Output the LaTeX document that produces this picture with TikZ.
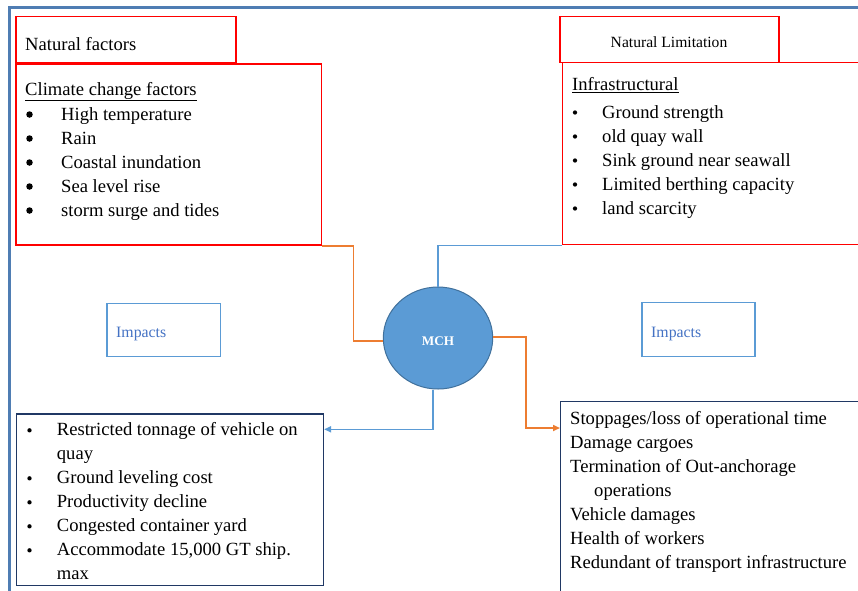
\documentclass[tikz,border=0pt]{standalone}
\usepackage{fontspec}
\setmainfont{Liberation Serif}
\usetikzlibrary{arrows.meta,shapes.geometric,calc}
\definecolor{framec}{HTML}{4F7DB3}
\definecolor{redc}{HTML}{FF0000}
\definecolor{impb}{HTML}{5B9BD5}
\definecolor{impt}{HTML}{4472C4}
\definecolor{orc}{HTML}{ED7D31}
\definecolor{bluec}{HTML}{5B9BD5}
\definecolor{ellb}{HTML}{41719C}
\definecolor{navyc}{HTML}{203864}
\tikzset{
  redbox/.style={draw=redc, line width=1.4pt, anchor=north west, inner sep=0pt},
  impbox/.style={draw=impb, line width=1.2pt, anchor=north west, inner sep=0pt},
  navybox/.style={draw=navyc, line width=1.4pt, anchor=north west, inner sep=0pt},
  txt/.style={anchor=base west, inner sep=0pt, font=\fontsize{18.6}{22}\selectfont},
  bul/.style={circle, fill=black, inner sep=0pt, minimum size=6.5pt},
  sbul/.style={circle, fill=black, inner sep=0pt, minimum size=4.3pt},
  imptxt/.style={anchor=base west, inner sep=0pt, text=impt, font=\fontsize{15.8}{18}\selectfont},
  orline/.style={draw=orc, line width=1.6pt},
  blline/.style={draw=bluec, line width=1.6pt},
  tip/.style={-{Triangle[length=7pt,width=6pt]}}
}
\begin{document}
\begin{tikzpicture}[x=1pt,y=-1pt]
\useasboundingbox (0,0) rectangle (858,590);
\clip (0,0) rectangle (858,590);
\fill[white] (0,0) rectangle (858,590);
% outer frame
\draw[framec, line width=3pt] (9.3,7) rectangle (900,640);

% top-left boxes
\node[redbox, minimum width=220, minimum height=46] (nf) at (15.3,16) {};
\node[txt] (nft) at (25,50) {Natural factors};
\node[redbox, minimum width=305.4, minimum height=181] (clim) at (15.3,63.3) {};
\node[txt] (climt) at (25,95) {\underline{Climate change factors}};
\node[bul] (cb1) at (29.5,114.5) {};
\node[txt] (ct1) at (61,120.5) {High temperature};
\node[bul] (cb2) at (29.5,138.5) {};
\node[txt] (ct2) at (61,144.5) {Rain};
\node[bul] (cb3) at (29.5,162.5) {};
\node[txt] (ct3) at (61,168.5) {Coastal inundation};
\node[bul] (cb4) at (29.5,186.5) {};
\node[txt] (ct4) at (61,192.5) {Sea level rise};
\node[bul] (cb5) at (29.5,210.5) {};
\node[txt] (ct5) at (61,216.5) {storm surge and tides};

% top-right boxes
\node[redbox, minimum width=338, minimum height=182] (infra) at (562,62) {};
\node[redbox, minimum width=219, minimum height=46, fill=white] (nl) at (559.3,16) {};
\node[anchor=base, inner sep=0pt, font=\fontsize{15.6}{18}\selectfont] (nlt) at (669,47.5) {Natural Limitation};
\node[txt] (inft) at (572,90.5) {\underline{Infrastructural}};
\node[sbul] (ib1) at (575,112.5) {};
\node[txt] (it1) at (602,118.5) {Ground strength};
\node[sbul] (ib2) at (575,136.5) {};
\node[txt] (it2) at (602,142.5) {old quay wall};
\node[sbul] (ib3) at (575,160.5) {};
\node[txt] (it3) at (602,166.5) {Sink ground near seawall};
\node[sbul] (ib4) at (575,184.5) {};
\node[txt] (it4) at (602,190.5) {Limited berthing capacity};
\node[sbul] (ib5) at (575,208.5) {};
\node[txt] (it5) at (602,214.5) {land scarcity};

% impacts boxes
\node[impbox, minimum width=113.4, minimum height=53] (impl) at (106.3,302.7) {};
\node[imptxt] (implt) at (116,337) {Impacts};
\node[impbox, minimum width=113, minimum height=54] (impr) at (641.3,301.7) {};
\node[imptxt] (imprt) at (651,337) {Impacts};

% MCH ellipse
\node[ellipse, draw=ellb, line width=1pt, fill=bluec, minimum width=109.4, minimum height=102, inner sep=0pt] (mch) at (438,338) {};
\node[anchor=base, inner sep=0pt, text=white, font=\fontsize{13.2}{15}\selectfont\bfseries] (mcht) at (438,345.7) {MCH};

% bottom-left box
\node[navybox, minimum width=306.7, minimum height=171.7] (bl) at (16,413.3) {};
\node[sbul] (bb1) at (29.5,430.3) {};
\node[txt] (bt1) at (56.7,435.6) {Restricted tonnage of vehicle on};
\node[txt] (bt1b) at (56.7,459.6) {quay};
\node[sbul] (bb2) at (29.5,478.3) {};
\node[txt] (bt2) at (56.7,483.6) {Ground leveling cost};
\node[sbul] (bb3) at (29.5,502.3) {};
\node[txt] (bt3) at (56.7,507.6) {Productivity decline};
\node[sbul] (bb4) at (29.5,526.3) {};
\node[txt] (bt4) at (56.7,531.6) {Congested container yard};
\node[sbul] (bb5) at (29.5,550.3) {};
\node[txt] (bt5) at (56.7,555.6) {Accommodate 15,000 GT ship.};
\node[txt] (bt5b) at (56.7,579.6) {max};

% bottom-right box
\node[navybox, minimum width=340, minimum height=230] (br) at (560,401) {};
\node[txt] (rt1) at (570,424) {Stoppages/loss of operational time};
\node[txt] (rt2) at (570,448) {Damage cargoes};
\node[txt] (rt3) at (570,472) {Termination of Out-anchorage};
\node[txt] (rt3b) at (594,496) {operations};
\node[txt] (rt4) at (570,520) {Vehicle damages};
\node[txt] (rt5) at (570,544) {Health of workers};
\node[txt] (rt6) at (570,568) {Redundant of transport infrastructure};

% connectors
\draw[orline] (clim.south east) -- ++(31.5,0) |- ([yshift=-3pt]mch.west);
\draw[blline] (infra.south west) -| (mch.north);
\draw[blline, tip] ([xshift=-5pt]mch.south) |- ([yshift=-16pt]bl.north east);
\draw[orline, tip] ([yshift=1pt]mch.east) -- ++(33,0) |- ([yshift=-27pt]br.north west);
\end{tikzpicture}
\end{document}
